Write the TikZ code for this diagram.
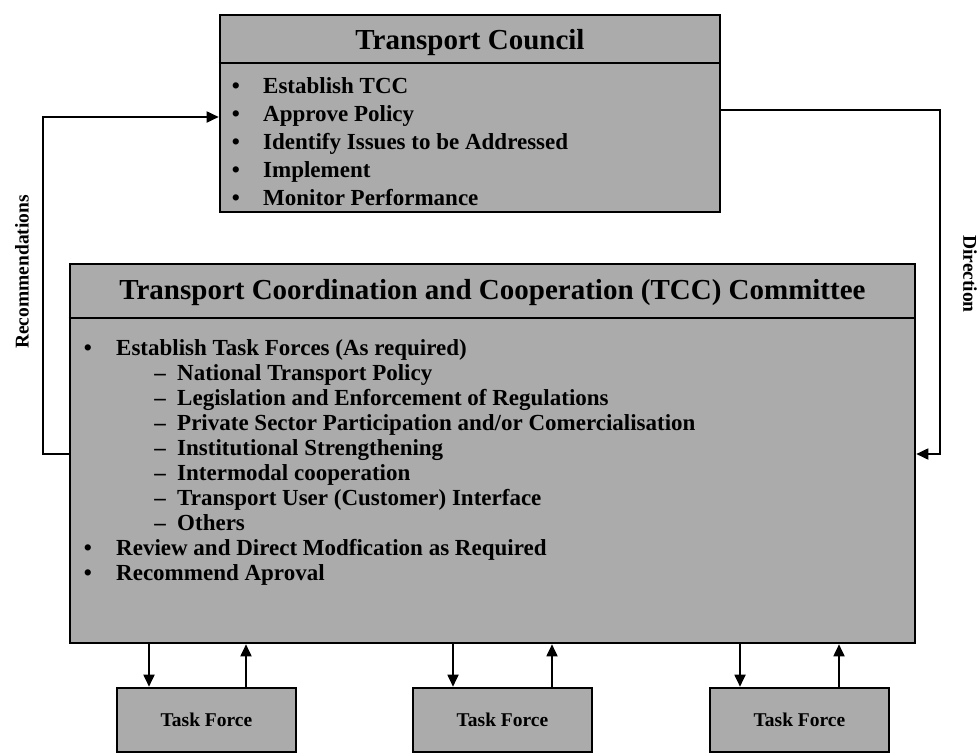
\documentclass[tikz,border=0pt]{standalone}
\usepackage{fontspec}
\setmainfont{Liberation Serif}
\usetikzlibrary{arrows.meta}
\begin{document}
\begin{tikzpicture}[x=1pt,y=-1pt,
  panel/.style={draw=black,line width=2.6pt,fill=black!33,inner sep=0pt},
  divider/.style={line width=2pt},
  flow/.style={line width=1.8pt,-{Triangle[length=12pt,width=11pt]}},
  headtext/.style={inner sep=0pt,text height=21pt,text depth=3pt,
    font=\fontsize{29}{32}\selectfont\bfseries},
  rowtext/.style={anchor=west,inner sep=0pt,text height=17pt,text depth=3pt,
    font=\fontsize{23}{25}\selectfont\bfseries},
  bulletglyph/.style={rowtext,anchor=center},
  tfbox/.style={panel,minimum width=179pt,minimum height=64pt,
    font=\fontsize{19.5}{22}\selectfont\bfseries},
  sidelabel/.style={inner sep=0pt,font=\fontsize{19.5}{22}\selectfont\bfseries}
]
\path[use as bounding box,fill=white] (0,0) rectangle (980,755);

% ---------------- Transport Council ----------------
\node[panel,minimum width=500pt,minimum height=197pt] (tc) at (470,113.5) {};
\coordinate (tcsep) at (0,63);
\draw[divider] (tc.west |- tcsep) -- (tc.east |- tcsep);
\node[headtext] (tctitle) at (470,40) {Transport Council};

\node[bulletglyph] (tcb1) at (236,86) {•};
\node[rowtext] (tc1) at (263,86) {Establish TCC};
\node[bulletglyph] (tcb2) at (236,114) {•};
\node[rowtext] (tc2) at (263,114) {Approve Policy};
\node[bulletglyph] (tcb3) at (236,142) {•};
\node[rowtext] (tc3) at (263,142) {Identify Issues to be Addressed};
\node[bulletglyph] (tcb4) at (236,170) {•};
\node[rowtext] (tc4) at (263,170) {Implement};
\node[bulletglyph] (tcb5) at (236,198) {•};
\node[rowtext] (tc5) at (263,198) {Monitor Performance};

% ---------------- TCC Committee ----------------
\node[panel,minimum width=845pt,minimum height=379pt] (tcc) at (492.5,453.5) {};
\coordinate (tccsep) at (0,318);
\draw[divider] (tcc.west |- tccsep) -- (tcc.east |- tccsep);
\node[headtext] (tcctitle) at (492.5,290)
  {Transport Coordination and Cooperation (TCC) Committee};

\node[bulletglyph] (cb1) at (88,348) {•};
\node[rowtext] (c1) at (116,348) {Establish Task Forces (As required)};
\node[bulletglyph] (cd2) at (160,373) {–};
\node[rowtext] (c2) at (177,373) {National Transport Policy};
\node[bulletglyph] (cd3) at (160,398) {–};
\node[rowtext] (c3) at (177,398) {Legislation and Enforcement of Regulations};
\node[bulletglyph] (cd4) at (160,423) {–};
\node[rowtext] (c4) at (177,423) {Private Sector Participation and/or Comercialisation};
\node[bulletglyph] (cd5) at (160,448) {–};
\node[rowtext] (c5) at (177,448) {Institutional Strengthening};
\node[bulletglyph] (cd6) at (160,473) {–};
\node[rowtext] (c6) at (177,473) {Intermodal cooperation};
\node[bulletglyph] (cd7) at (160,498) {–};
\node[rowtext] (c7) at (177,498) {Transport User (Customer) Interface};
\node[bulletglyph] (cd8) at (160,523) {–};
\node[rowtext] (c8) at (177,523) {Others};
\node[bulletglyph] (cb9) at (88,548) {•};
\node[rowtext] (c9) at (116,548) {Review and Direct Modfication as Required};
\node[bulletglyph] (cb10) at (88,573) {•};
\node[rowtext] (c10) at (116,573) {Recommend Aproval};

% ---------------- Task forces ----------------
\node[tfbox] (tf1) at (206.5,720) {Task Force};
\node[tfbox] (tf2) at (502.5,720) {Task Force};
\node[tfbox] (tf3) at (799.5,720) {Task Force};

\coordinate (dn1) at (149,0);
\coordinate (up1) at (246,0);
\coordinate (dn2) at (453,0);
\coordinate (up2) at (552,0);
\coordinate (dn3) at (740,0);
\coordinate (up3) at (839,0);
\draw[flow] (tcc.south -| dn1) -- (tf1.north -| dn1);
\draw[flow] (tf1.north -| up1) -- (tcc.south -| up1);
\draw[flow] (tcc.south -| dn2) -- (tf2.north -| dn2);
\draw[flow] (tf2.north -| up2) -- (tcc.south -| up2);
\draw[flow] (tcc.south -| dn3) -- (tf3.north -| dn3);
\draw[flow] (tf3.north -| up3) -- (tcc.south -| up3);

% ---------------- Feedback loops ----------------
\coordinate (recbot) at (43,454);
\coordinate (rectop) at (43,117);
\draw[flow] (tcc.west |- recbot) -- (recbot) -- (rectop) -- (tc.west |- rectop);
\node[sidelabel,rotate=90] (reclabel) at (22,272) {Recommendations};

\coordinate (dirtop) at (940,110);
\coordinate (dirbot) at (940,454);
\draw[flow] (tc.east |- dirtop) -- (dirtop) -- (dirbot) -- (tcc.east |- dirbot);
\node[sidelabel,rotate=-90] (dirlabel) at (970,274) {Direction};
\end{tikzpicture}
\end{document}
